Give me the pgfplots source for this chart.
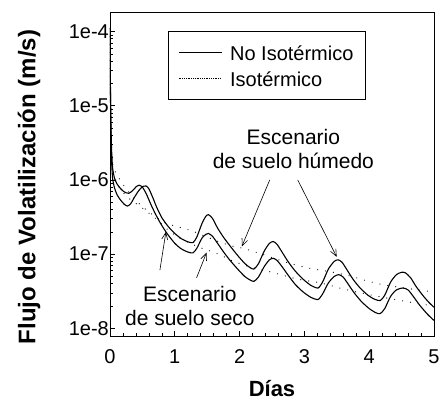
\documentclass[border=0pt]{standalone}
\usepackage{fontspec}
\setmainfont{Liberation Sans}
\usepackage{pgfplots}
\pgfplotsset{compat=1.18}
\usetikzlibrary{arrows.meta}
\begin{document}
\begin{tikzpicture}
\path[use as bounding box] (-110bp,-65bp) rectangle (330bp,336bp);
\begin{axis}[
  at={(0,0)}, anchor=south west,
  scale only axis, width=324bp, height=324bp,
  xmin=0, xmax=5, ymode=log, ymin=7.9e-9, ymax=1.83e-4,
  axis line style={line width=0.8pt},
  tick align=inside, tick pos=left,
  major tick length=5bp, minor tick length=3bp,
  every tick/.style={black, line width=0.6pt},
  xtick={0,1,2,3,4,5}, xticklabels={0,1,2,3,4,5},
  minor x tick num=4,
  ytick={1e-8,1e-7,1e-6,1e-5,1e-4},
  yticklabels={1e-8,1e-7,1e-6,1e-5,1e-4},
  minor ytick={2e-8,3e-8,4e-8,5e-8,6e-8,7e-8,8e-8,9e-8,2e-7,3e-7,4e-7,5e-7,6e-7,7e-7,8e-7,9e-7,2e-6,3e-6,4e-6,5e-6,6e-6,7e-6,8e-6,9e-6,2e-5,3e-5,4e-5,5e-5,6e-5,7e-5,8e-5,9e-5},
  /pgf/number format/assume math mode=true,
  tick label style={font=\fontsize{20bp}{24bp}\selectfont},
  yticklabel style={inner xsep=1bp},
  xticklabel style={yshift=-10bp},
  xlabel={Días}, ylabel={Flujo de Volatilización (m/s)},
  label style={font=\bfseries\fontsize{22bp}{26bp}\selectfont},
  xlabel style={at={(axis description cs:0.5,-0.188)}, anchor=base},
  ylabel style={at={(axis description cs:-0.25,0.46)}, anchor=center, font=\bfseries\fontsize{24bp}{28bp}\selectfont},
  legend style={at={(axis description cs:0.179,0.941)}, anchor=north west,
    draw=black, line width=0.6pt, inner xsep=10bp, inner ysep=10bp,
    font=\fontsize{20bp}{24bp}\selectfont, row sep=4bp,
    nodes={inner sep=2bp, text height=17bp, text depth=1bp},
    /tikz/every odd column/.append style={column sep=6bp}},
  legend cell align=left,
  legend image code/.code={\draw[#1] (0bp,0bp) -- (43bp,0bp);},
]
\addlegendimage{black, line width=0.8pt}
\addlegendentry{No Isotérmico}
\addlegendimage{black, line width=0.6pt, dash pattern=on 0.6pt off 1.2pt}
\addlegendentry{Isotérmico}

\addplot[forget plot, black, line width=1.1pt, smooth, tension=0.4] coordinates {
(0,1.1e-4) (0.004,3e-5) (0.008,1.2e-5) (0.014,4.5e-6) (0.025,1.8e-6) (0.04,1.05e-6) (0.07,7.8e-7) (0.11,6.3e-7) (0.16,5.4e-7) (0.22,4.7e-7) (0.27,4.45e-7) (0.32,4.8e-7) (0.38,5.9e-7) (0.45,7.3e-7) (0.51,8.2e-7) (0.556,8.3e-7) (0.6,7.6e-7) (0.66,5.8e-7) (0.72,4.3e-7) (0.8,3.1e-7) (0.9,2.35e-7) (1.0,1.9e-7) (1.1,1.62e-7) (1.2,1.47e-7) (1.28,1.43e-7) (1.34,1.7e-7) (1.42,2.6e-7) (1.48,3.25e-7) (1.52,3.4e-7) (1.58,3.05e-7) (1.66,2.25e-7) (1.75,1.7e-7) (1.85,1.3e-7) (1.97,9.6e-8) (2.08,7.5e-8) (2.16,6.6e-8) (2.22,6.3e-8) (2.29,7.4e-8) (2.38,1.1e-7) (2.46,1.4e-7) (2.52,1.48e-7) (2.58,1.35e-7) (2.66,1.05e-7) (2.75,7.9e-8) (2.86,5.9e-8) (2.98,4.6e-8) (3.1,3.8e-8) (3.21,3.5e-8) (3.28,4.2e-8) (3.37,6.3e-8) (3.46,8e-8) (3.52,8.4e-8) (3.58,7.8e-8) (3.66,6.1e-8) (3.75,4.6e-8) (3.86,3.5e-8) (3.98,2.8e-8) (4.08,2.48e-8) (4.17,2.37e-8) (4.24,2.8e-8) (4.33,4.2e-8) (4.42,5.3e-8) (4.5,5.7e-8) (4.56,5.6e-8) (4.64,4.8e-8) (4.73,3.6e-8) (4.84,2.7e-8) (4.93,2.2e-8) (5.0,1.93e-8)
};
\addplot[forget plot, black, line width=1.1pt, smooth, tension=0.4] coordinates {
(0,1.1e-4) (0.004,3.5e-5) (0.008,1.5e-5) (0.014,6e-6) (0.025,2.5e-6) (0.04,1.45e-6) (0.07,1.05e-6) (0.11,8.8e-7) (0.16,7.7e-7) (0.22,6.9e-7) (0.29,6.6e-7) (0.35,7.2e-7) (0.41,8.2e-7) (0.45,8.5e-7) (0.5,8e-7) (0.56,6.5e-7) (0.63,4.7e-7) (0.7,3.5e-7) (0.78,2.6e-7) (0.88,1.9e-7) (1.0,1.4e-7) (1.1,1.18e-7) (1.2,1.07e-7) (1.28,1.04e-7) (1.34,1.2e-7) (1.42,1.65e-7) (1.48,1.85e-7) (1.52,1.9e-7) (1.58,1.75e-7) (1.66,1.4e-7) (1.75,1.08e-7) (1.85,8.3e-8) (1.97,6.3e-8) (2.08,5.0e-8) (2.16,4.5e-8) (2.22,4.3e-8) (2.29,4.9e-8) (2.38,6.8e-8) (2.46,8.4e-8) (2.52,8.8e-8) (2.58,8.2e-8) (2.66,6.7e-8) (2.75,5.2e-8) (2.86,3.9e-8) (2.98,3.1e-8) (3.1,2.62e-8) (3.21,2.45e-8) (3.28,2.9e-8) (3.37,4.1e-8) (3.46,5.0e-8) (3.53,5.3e-8) (3.6,4.9e-8) (3.68,3.9e-8) (3.77,3.0e-8) (3.88,2.3e-8) (4.0,1.85e-8) (4.1,1.63e-8) (4.17,1.58e-8) (4.24,1.85e-8) (4.33,2.7e-8) (4.42,3.3e-8) (4.52,3.5e-8) (4.6,3.3e-8) (4.68,2.7e-8) (4.78,2.05e-8) (4.9,1.55e-8) (5.0,1.28e-8)
};
\addplot[forget plot, black, line width=1.2pt, line cap=round, dash pattern=on 0pt off 8bp, smooth, tension=0.4] coordinates {
(0,1.1e-4) (0.005,2e-5) (0.012,5e-6) (0.025,2.3e-6) (0.045,1.6e-6) (0.08,1.3e-6) (0.14,1.05e-6) (0.25,7.6e-7) (0.36,5.8e-7) (0.46,4.7e-7) (0.57,3.9e-7) (0.7,3.2e-7) (0.85,2.65e-7) (1.0,2.4e-7) (1.16,2.2e-7) (1.3,2.0e-7) (1.5,1.7e-7) (1.7,1.45e-7) (1.88,1.29e-7) (2.05,1.2e-7) (2.2,1.1e-7) (2.5,9e-8) (2.8,7.4e-8) (3.1,6.4e-8) (3.4,5.8e-8) (3.7,5.1e-8) (3.95,4.4e-8) (4.2,3.9e-8) (4.5,3.55e-8) (4.75,3.3e-8) (5.0,3.1e-8)
};
\addplot[forget plot, black, line width=1.2pt, line cap=round, dash pattern=on 0pt off 8bp, smooth, tension=0.4] coordinates {
(0,1.1e-4) (0.005,2.2e-5) (0.012,6e-6) (0.025,2.2e-6) (0.045,1.4e-6) (0.08,1.05e-6) (0.14,8e-7) (0.22,6.5e-7) (0.33,5.3e-7) (0.45,4.5e-7) (0.56,3.8e-7) (0.71,3.0e-7) (0.9,2.1e-7) (1.1,1.6e-7) (1.25,1.38e-7) (1.4,1.22e-7) (1.55,1.1e-7) (1.7,9.8e-8) (1.88,8.2e-8) (2.15,6.8e-8) (2.5,5.7e-8) (2.9,4.6e-8) (3.25,4.1e-8) (3.6,3.4e-8) (4.0,2.85e-8) (4.4,2.45e-8) (4.7,2.2e-8) (5.0,2.0e-8)
};

\node[align=center, font=\fontsize{21bp}{24bp}\selectfont, inner sep=0pt] at (axis cs:2.83,2.62e-6) {Escenario\\de suelo húmedo};
\node[align=center, font=\fontsize{21bp}{24bp}\selectfont, inner sep=0pt] at (axis cs:1.233,2.03e-8) {Escenario\\de suelo seco};
\draw[line width=0.6pt, -{Straight Barb[length=7bp, width=6bp]}] (axis cs:2.465,1.0e-6) -- (axis cs:2.034,1.27e-7);
\draw[line width=0.6pt, -{Straight Barb[length=7bp, width=6bp]}] (axis cs:2.897,1.0e-6) -- (axis cs:3.498,9.2e-8);
\draw[line width=0.6pt, -{Straight Barb[length=7bp, width=6bp]}] (axis cs:0.77,6.1e-8) -- (axis cs:0.863,2.0e-7);
\draw[line width=0.6pt, -{Straight Barb[length=7bp, width=6bp]}] (axis cs:1.336,4.8e-8) -- (axis cs:1.49,1.05e-7);
\end{axis}
\end{tikzpicture}
\end{document}
